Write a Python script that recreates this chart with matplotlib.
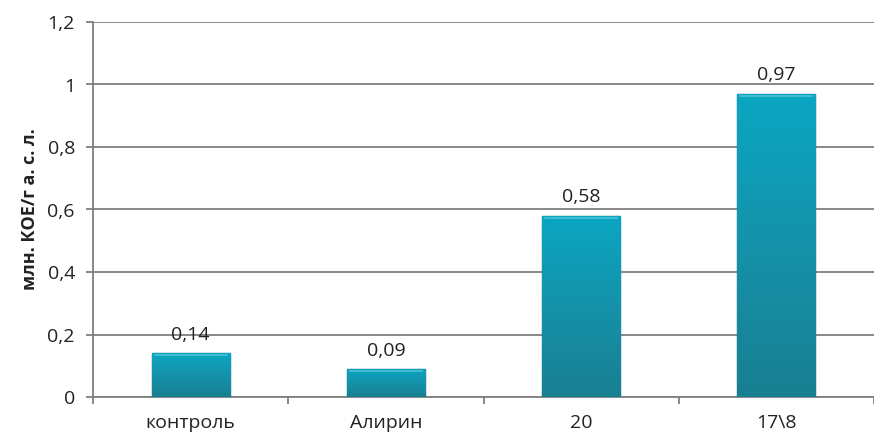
import numpy as np
import matplotlib
matplotlib.use("Agg")
import matplotlib.pyplot as plt
from matplotlib.colors import LinearSegmentedColormap

categories = ["контроль", "Алирин", "20", "17\\8"]
values = [0.14, 0.09, 0.58, 0.97]
yticks = [0, 0.2, 0.4, 0.6, 0.8, 1.0, 1.2]
ytick_labels = ["0", "0,2", "0,4", "0,6", "0,8", "1", "1,2"]
ylabel = "млн. КОЕ/г а. с. л."

plt.rcParams['font.family'] = ['Open Sans', 'DejaVu Sans']
grid_col = "#7f7f7f"
text_col = "#222222"

fig = plt.figure(figsize=(8.74, 4.4), dpi=100)
ax = fig.add_axes([93 / 874, 43 / 440, 781 / 874, 375 / 440])

x = np.arange(len(categories))
bars = ax.bar(x, values, width=0.4, color="#1495ad", edgecolor="#0e6878", linewidth=1.0, zorder=3)

# vertical gradient inside each bar, lighter on top
cmap = LinearSegmentedColormap.from_list("teal", ["#0aa6c2", "#1592aa", "#197f91"])
grad = np.linspace(0, 1, 256).reshape(-1, 1)
for b in bars:
    x0, y0 = b.get_x(), b.get_y()
    w, h = b.get_width(), b.get_height()
    im = ax.imshow(grad, extent=[x0, x0 + w, y0, y0 + h], cmap=cmap, aspect="auto", zorder=3.5)
    im.set_clip_path(b)
    ax.plot([x0 + 0.015, x0 + w - 0.015], [y0 + h - 0.006, y0 + h - 0.006], color="#4dbfd3", lw=1.2, zorder=4)

for xi, v in zip(x, values):
    ax.text(xi, v + 0.03, ("%.2f" % v).replace(".", ","), ha="center", va="bottom",
            fontsize=14, color=text_col, zorder=5)

ax.set_xlim(-0.5, len(categories) - 0.5)
ax.set_ylim(0, 1.2)
ax.set_yticks(yticks)
ax.set_yticklabels(ytick_labels)
ax.set_xticks(x)
ax.set_xticklabels(categories)
ax.set_xticks(np.arange(len(categories) + 1) - 0.5, minor=True)
ax.tick_params(axis="x", which="major", length=0, pad=12, labelsize=14, labelcolor=text_col)
ax.tick_params(axis="x", which="minor", length=5, color=grid_col, width=1.3)
ax.tick_params(axis="y", length=5, color=grid_col, width=1.3, labelsize=14, labelcolor=text_col, pad=8)

ax.grid(axis="y", color=grid_col, linewidth=1.3, zorder=0)
for s in ["top", "right"]:
    ax.spines[s].set_visible(False)
ax.spines["left"].set_color(grid_col)
ax.spines["left"].set_linewidth(1.3)
ax.spines["bottom"].set_color(grid_col)
ax.spines["bottom"].set_linewidth(1.3)

ax.set_ylabel(ylabel, fontsize=13, fontweight="bold", color=text_col, labelpad=6)

fig.savefig("out.png", dpi=100)
